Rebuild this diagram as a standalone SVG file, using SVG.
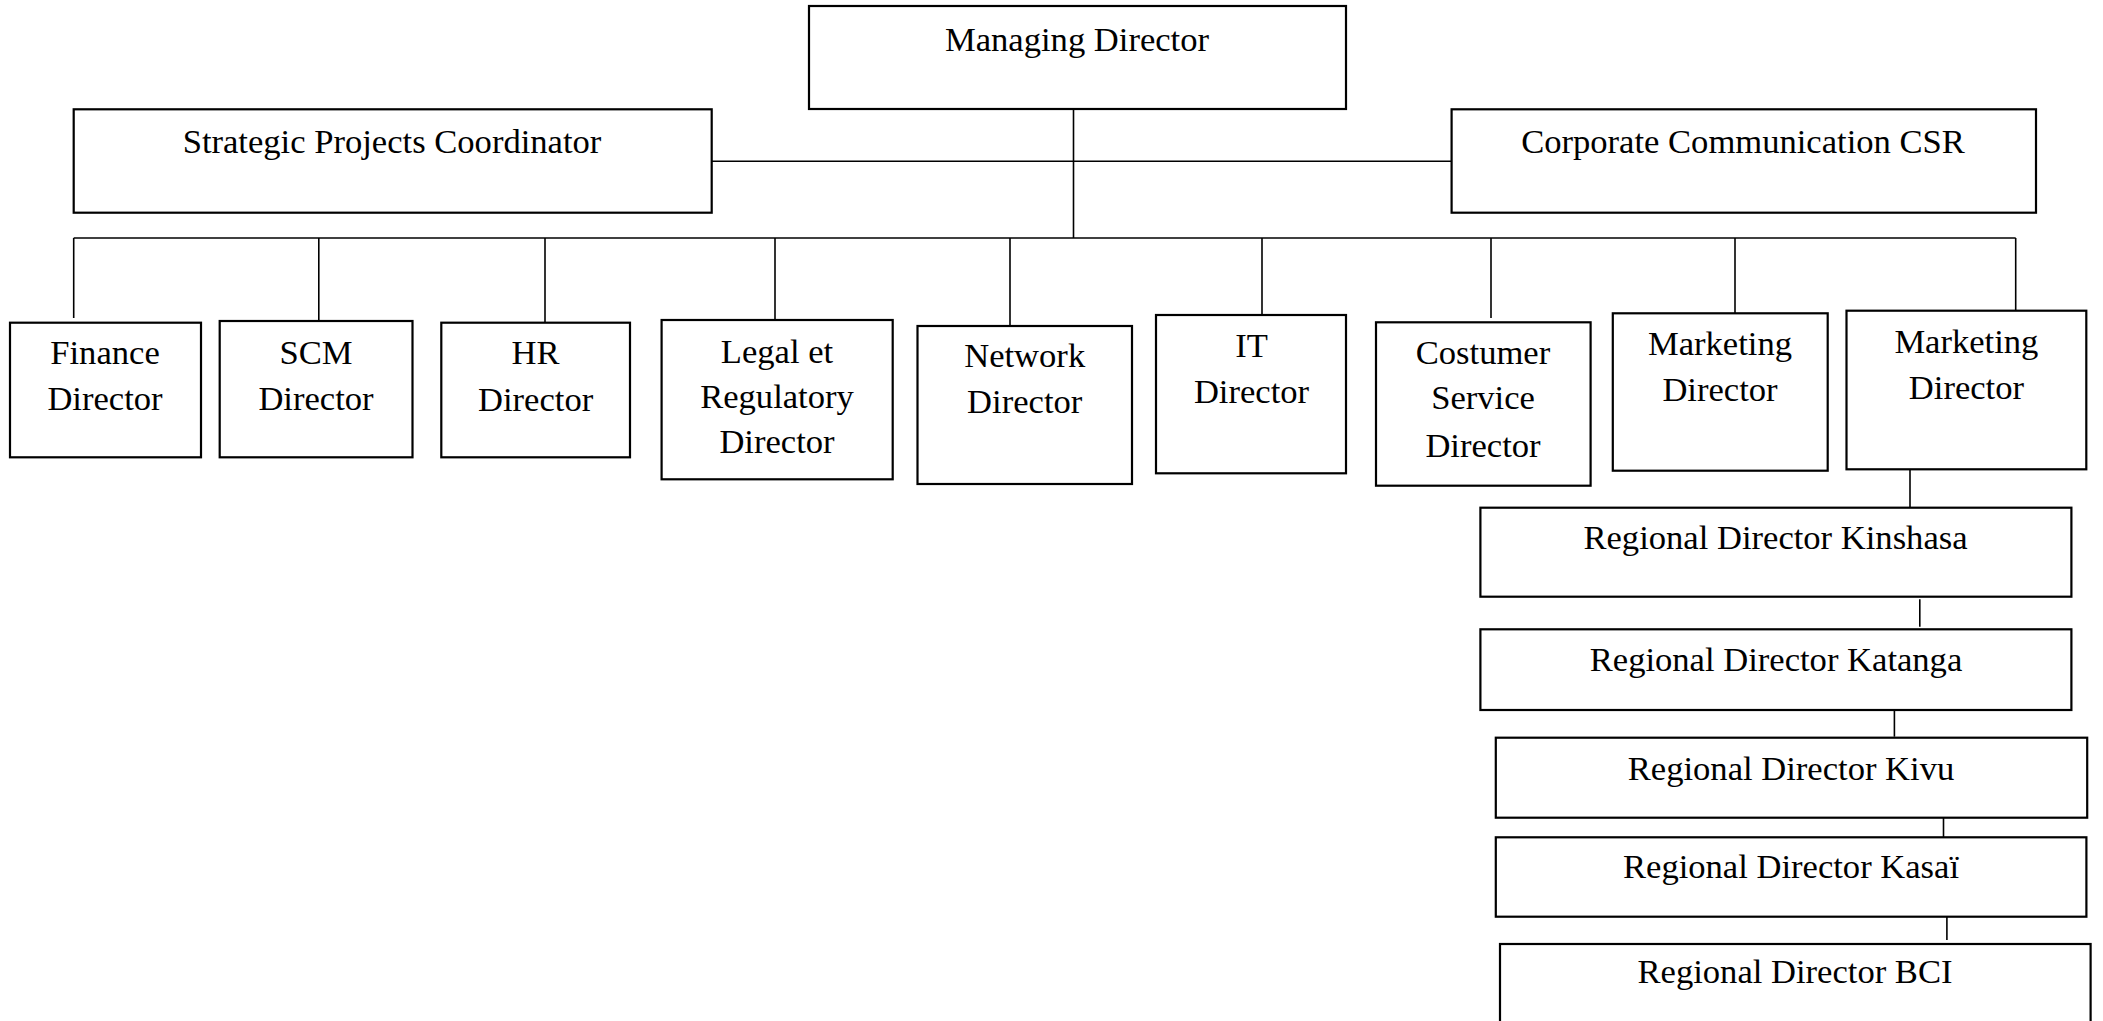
<svg xmlns="http://www.w3.org/2000/svg" width="2103" height="1021" viewBox="0 0 2103 1021">
<style>
.box{fill:#fff;stroke:#000;stroke-width:2.2}
.ln{stroke:#000;stroke-width:1.6;fill:none}
text{font-family:"Liberation Serif","Times New Roman",serif;font-size:34.6px;fill:#000;text-anchor:middle}
</style>
<rect width="2103" height="1021" fill="#fff"/>
<g id="connectors">
<line class="ln" x1="1073.5" y1="109" x2="1073.5" y2="238"/>
<line class="ln" x1="712" y1="161.3" x2="1452" y2="161.3"/>
<line class="ln" x1="73.7" y1="238" x2="2015.7" y2="238"/>
<line class="ln" x1="73.7" y1="238" x2="73.7" y2="318"/>
<line class="ln" x1="318.8" y1="238" x2="318.8" y2="321"/>
<line class="ln" x1="545" y1="238" x2="545" y2="322.7"/>
<line class="ln" x1="775" y1="238" x2="775" y2="320"/>
<line class="ln" x1="1010" y1="238" x2="1010" y2="326"/>
<line class="ln" x1="1262" y1="238" x2="1262" y2="315"/>
<line class="ln" x1="1491" y1="238" x2="1491" y2="318"/>
<line class="ln" x1="1735" y1="238" x2="1735" y2="313.3"/>
<line class="ln" x1="2015.7" y1="238" x2="2015.7" y2="313"/>
<line class="ln" x1="1910" y1="464" x2="1910" y2="510"/>
<line class="ln" x1="1919.8" y1="599.3" x2="1919.8" y2="626.7"/>
<line class="ln" x1="1894.4" y1="710" x2="1894.4" y2="736.7"/>
<line class="ln" x1="1943.5" y1="817.7" x2="1943.5" y2="839.3"/>
<line class="ln" x1="1946.9" y1="916.7" x2="1946.9" y2="940"/>
</g>
<g id="managing-director"><rect class="box" x="809" y="6" width="537" height="103"/><text x="1077" y="50.5">Managing Director</text></g>
<g id="strategic-projects"><rect class="box" x="73.7" y="109.3" width="638" height="103.4"/><text x="392" y="153">Strategic Projects Coordinator</text></g>
<g id="corporate-communication"><rect class="box" x="1451.6" y="109.3" width="584.4" height="103.4"/><text x="1743" y="153">Corporate Communication CSR</text></g>
<g id="finance"><rect class="box" x="10" y="322.7" width="191" height="134.6"/><text x="105" y="364">Finance</text><text x="105" y="410">Director</text></g>
<g id="scm"><rect class="box" x="219.7" y="321" width="192.8" height="136.3"/><text x="316" y="364">SCM</text><text x="316" y="410">Director</text></g>
<g id="hr"><rect class="box" x="441.3" y="322.7" width="188.7" height="134.6"/><text x="535.6" y="364">HR</text><text x="535.6" y="410.7">Director</text></g>
<g id="legal"><rect class="box" x="661.6" y="320" width="231.1" height="159.3"/><text x="777" y="362.7">Legal et</text><text x="777" y="408.3">Regulatory</text><text x="777" y="453.3">Director</text></g>
<g id="network"><rect class="box" x="917.5" y="326" width="214.5" height="158"/><text x="1024.7" y="366.7">Network</text><text x="1024.7" y="413.3">Director</text></g>
<g id="it"><rect class="box" x="1156" y="315" width="190" height="158.3"/><text x="1251.5" y="356.7">IT</text><text x="1251.5" y="402.7">Director</text></g>
<g id="costumer-service"><rect class="box" x="1376" y="322.3" width="214.6" height="163.4"/><text x="1483" y="364">Costumer</text><text x="1483" y="409">Service</text><text x="1483" y="457">Director</text></g>
<g id="marketing-1"><rect class="box" x="1612.8" y="313.3" width="214.9" height="157.4"/><text x="1720" y="355">Marketing</text><text x="1720" y="401">Director</text></g>
<g id="marketing-2"><rect class="box" x="1846.5" y="310.7" width="239.8" height="158.6"/><text x="1966.4" y="353.3">Marketing</text><text x="1966.4" y="399.3">Director</text></g>
<g id="kinshasa"><rect class="box" x="1480.4" y="507.7" width="591" height="89"/><text x="1775.5" y="549.3">Regional Director Kinshasa</text></g>
<g id="katanga"><rect class="box" x="1480.4" y="629.3" width="591" height="80.7"/><text x="1776" y="670.7">Regional Director Katanga</text></g>
<g id="kivu"><rect class="box" x="1495.8" y="737.7" width="591.4" height="80"/><text x="1791" y="779.5">Regional Director Kivu</text></g>
<g id="kasai"><rect class="box" x="1495.8" y="837.3" width="590.6" height="79.4"/><text x="1791" y="878.3">Regional Director Kasaï</text></g>
<g id="bci"><rect class="box" x="1500" y="944" width="590.6" height="100"/><text x="1795" y="983.3">Regional Director BCI</text></g>
</svg>
